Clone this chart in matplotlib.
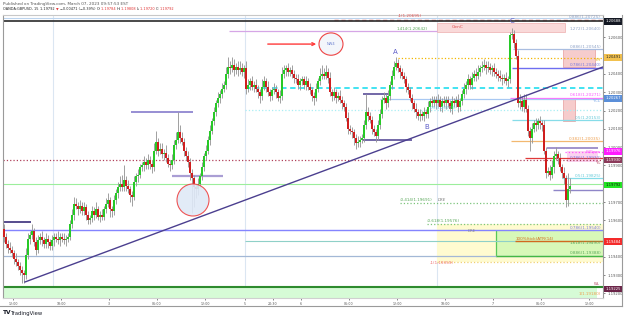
import matplotlib
matplotlib.use('Agg')
import matplotlib.pyplot as plt
import matplotlib.transforms as mtransforms
from matplotlib.patches import Rectangle, Ellipse
from matplotlib.lines import Line2D
import numpy as np

# ---------------- data (15-min GBPUSD candles) ----------------
BASE = 1.19000            # price base; series are in pips above it
first_open_pips = 55
close_pips = [
    51, 47, 45, 44, 42, 39, 37, 35, 33, 31, 30, 41, 50, 52, 54, 48, 44, 49, 51, 49,
    47, 50, 48, 46, 49, 51, 50, 49, 51, 50, 49, 50, 51, 58, 63, 69, 68, 66, 68, 65,
    67, 63, 60, 61, 65, 63, 66, 62, 63, 62, 66, 69, 71, 66, 65, 71, 75, 78, 80, 78,
    82, 79, 77, 74, 73, 81, 84, 85, 89, 90, 92, 90, 93, 91, 89, 98, 103, 98, 99, 96,
    97, 94, 91, 90, 93, 101, 104, 108, 105, 103, 98, 95, 92, 86, 83, 78, 77, 80, 84, 89,
    95, 98, 104, 109, 114, 119, 124, 127, 129, 132, 134, 140, 144, 143, 145, 142, 144, 142, 143, 141,
    143, 132, 134, 136, 133, 134, 132, 130, 128, 133, 136, 133, 130, 128, 131, 132, 130, 127, 128, 140,
    142, 143, 141, 142, 140, 138, 137, 134, 136, 137, 134, 136, 133, 131, 128, 127, 132, 136, 139, 140,
    139, 141, 138, 130, 128, 130, 127, 128, 126, 124, 122, 116, 110, 109, 108, 105, 102, 103, 104, 105,
    112, 119, 117, 115, 110, 108, 106, 112, 118, 126, 127, 124, 128, 134, 139, 144, 146, 143, 141, 139,
    137, 133, 131, 127, 124, 121, 119, 117, 118, 117, 119, 118, 122, 125, 124, 126, 124, 126, 122, 125,
    124, 126, 124, 121, 125, 124, 126, 122, 125, 129, 132, 134, 137, 134, 138, 140, 139, 141, 143, 144,
    145, 143, 144, 142, 143, 141, 140, 139, 138, 137, 138, 136, 137, 161, 162, 157, 150, 124, 125, 122,
    126, 121, 109, 105, 110, 113, 112, 114, 113, 112, 98, 86, 87, 85, 89, 95, 96, 94, 89, 86, 83, 71, 77, 79,
]
wick_up_pips = [
    3, 2, 2, 3, 2, 2, 3, 2, 2, 2, 2, 4, 3, 2, 4, 2, 3, 3, 2, 3,
    2, 3, 2, 2, 3, 2, 2, 4, 2, 2, 3, 2, 2, 2, 3, 4, 3, 2, 3, 2,
    3, 2, 2, 2, 3, 2, 4, 2, 2, 3, 2, 3, 4, 2, 2, 3, 2, 3, 4, 5,
    8, 2, 3, 2, 2, 3, 2, 3, 2, 2, 3, 2, 3, 2, 2, 4, 6, 2, 3, 3,
    2, 4, 2, 2, 3, 3, 4, 11, 4, 3, 2, 2, 3, 2, 2, 2, 2, 3, 2, 3,
    2, 3, 2, 3, 2, 3, 2, 3, 2, 3, 2, 4, 5, 3, 4, 3, 2, 3, 4, 3,
    2, 4, 3, 2, 3, 2, 3, 2, 2, 4, 3, 2, 3, 2, 2, 3, 2, 2, 3, 4,
    3, 2, 3, 2, 3, 2, 2, 3, 2, 2, 2, 3, 2, 2, 2, 2, 3, 2, 4, 5,
    3, 4, 2, 3, 2, 3, 2, 2, 3, 2, 2, 2, 3, 2, 2, 2, 2, 3, 2, 2,
    3, 10, 3, 2, 2, 2, 2, 3, 3, 2, 3, 2, 3, 2, 3, 3, 3, 2, 2, 2,
    2, 2, 2, 2, 2, 2, 3, 2, 3, 2, 3, 2, 3, 2, 3, 2, 2, 3, 2, 2,
    3, 2, 2, 2, 3, 2, 2, 3, 2, 2, 3, 2, 3, 2, 3, 2, 3, 4, 2, 3,
    3, 2, 3, 2, 2, 3, 2, 2, 3, 2, 2, 3, 2, 2, 3, 2, 2, 3, 4, 3,
    3, 3, 2, 2, 3, 2, 3, 2, 3, 2, 3, 2, 2, 3, 4, 3, 4, 2, 3, 2, 3, 2, 9, 4,
]
wick_dn_pips = [
    3, 2, 3, 2, 2, 3, 2, 2, 3, 5, 4, 2, 2, 3, 2, 2, 3, 2, 2, 3,
    2, 2, 3, 2, 2, 3, 2, 2, 3, 2, 2, 3, 2, 2, 2, 3, 2, 3, 2, 2,
    2, 3, 2, 2, 2, 3, 2, 2, 3, 2, 2, 2, 2, 4, 3, 2, 2, 3, 2, 2,
    2, 3, 2, 4, 5, 2, 2, 3, 2, 2, 3, 2, 2, 3, 3, 2, 2, 3, 2, 2,
    3, 2, 2, 3, 2, 2, 2, 2, 3, 2, 3, 2, 3, 4, 19, 11, 5, 3, 2, 2,
    2, 2, 2, 3, 2, 2, 2, 2, 3, 2, 2, 2, 2, 3, 2, 3, 2, 3, 2, 2,
    3, 3, 2, 3, 2, 3, 2, 3, 4, 2, 2, 3, 2, 3, 2, 2, 3, 2, 3, 2,
    2, 3, 2, 2, 2, 3, 2, 2, 3, 2, 2, 3, 2, 2, 3, 4, 2, 2, 2, 2,
    2, 2, 3, 2, 3, 2, 3, 2, 2, 3, 2, 2, 3, 2, 3, 4, 3, 2, 3, 2,
    2, 2, 3, 2, 3, 2, 3, 2, 2, 2, 2, 3, 2, 2, 2, 2, 2, 2, 3, 2,
    2, 3, 2, 2, 3, 2, 3, 2, 3, 2, 3, 2, 2, 3, 2, 2, 3, 2, 2, 3,
    2, 3, 2, 2, 3, 2, 2, 3, 2, 2, 2, 3, 2, 2, 2, 2, 3, 2, 2, 2,
    2, 3, 2, 2, 3, 2, 2, 3, 2, 3, 2, 2, 3, 2, 2, 3, 2, 2, 3, 2,
    3, 2, 3, 7, 3, 2, 3, 2, 3, 3, 2, 3, 2, 3, 2, 3, 2, 3, 2, 3, 3, 4, 3, 2,
]

time_tick_pos = [4.5, 28.5, 52.5, 76.5, 100.5, 120.5, 134.5, 148.5, 172.5, 196.5, 220.5, 244.5, 268.5, 292.5]
time_tick_labels = ['12:00', '18:00', '3', '06:00', '12:00', '5', '20:30', '6', '06:00', '12:00', '18:00', '7', '06:00', '12:00']
session_breaks = [24.5, 120.5, 216.5]

price_ticks = [1.20600, 1.20400, 1.20300, 1.20200, 1.20100, 1.20000, 1.19900,
               1.19700, 1.19600, 1.19400, 1.19300, 1.19200]
# (price, text, background, text colour)
price_badges = [
    (1.20688, '1.20688', '#131722', 'white'),
    (1.20491, '1.20491', '#f2c14e', '#222222'),
    (1.20267, '1.20267', '#5b8fd9', 'white'),
    (1.19976, '1.19976', '#ff1cff', 'white'),
    (1.19930, '1.19930', '#8b3a5a', 'white'),
    (1.19792, '1.19792', '#22e622', '#111111'),
    (1.19484, '1.19484', '#f42a2a', 'white'),
    (1.19225, '1.19225', '#6b2448', 'white'),
]

# header pieces: (text, colour)
header_title = 'Published on TradingView.com, March 07, 2023 09:57:53 EST'
header_pieces = [
    ('OANDA:GBPUSD, 15 ', '#222222'), ('1.19792 ', '#222222'), ('\u25bc ', '#e03030'),
    ('\u22120.00471 (\u22120.39%) ', '#222222'),
    ('O:', '#222222'), ('1.19784 ', '#e03030'), ('H:', '#222222'), ('1.19808 ', '#e03030'),
    ('L:', '#222222'), ('1.19720 ', '#e03030'), ('C:', '#222222'), ('1.19792', '#e03030'),
]

# ---------------- figure ----------------
W, H = 625, 319
fig = plt.figure(figsize=(W / 100, H / 100), dpi=100)
fig.patch.set_facecolor('white')
ax = fig.add_axes([3 / W, 1 - 298 / H, 600 / W, 283 / H])
ax.set_xlim(-0.5, 299.5)
ax.set_ylim(1.191754, 1.207219)
ax.set_facecolor('white')

closes = BASE + np.array(close_pips) / 1e4
opens = np.r_[BASE + first_open_pips / 1e4, closes[:-1]]
highs = np.maximum(opens, closes) + np.array(wick_up_pips) / 1e4
lows = np.minimum(opens, closes) - np.array(wick_dn_pips) / 1e4
xs = np.arange(len(closes))

XR = 299.5


def hline(p, x0, x1, color, lw=0.8, ls='-', z=2):
    ax.plot([x0, x1], [p, p], color=color, lw=lw, ls=ls, zorder=z, solid_capstyle='butt')


def rect(x0, x1, p0, p1, fc, ec='none', lw=0.6, z=1, alpha=1.0):
    ax.add_patch(Rectangle((x0, min(p0, p1)), x1 - x0, abs(p1 - p0), facecolor=fc,
                           edgecolor=ec, lw=lw, zorder=z, alpha=alpha))


def txt(x, p, s, color, size=3.0, ha='left', va='center', z=6, **kw):
    ax.text(x, p, s, color=color, fontsize=size, ha=ha, va=va, zorder=z, **kw)


# session separators
for sb in session_breaks:
    ax.axvline(sb, color='#dbe6f2', lw=0.8, zorder=0.5)

# ---- zones / rectangles ----
rect(216.5, 280.5, 1.20629, 1.20678, '#f9d9d9', ec='#f0b8b8', z=1)           # GenC
rect(279.5, 295.5, 1.20438, 1.20536, '#f6cccc', ec='#eaa9a9', z=1)
rect(279.5, 285.5, 1.20143, 1.20268, '#f6cccc', ec='#eaa9a9', z=1)
rect(281.5, 297.0, 1.19919, 1.19979, '#fbd3f0', ec='none', z=1)
rect(216.5, XR, 1.19372, 1.19580, '#fffbd0', ec='none', z=1)                  # DRE yellow
rect(246.0, XR, 1.19405, 1.19542, '#d8f8b8', ec='none', z=1.2)                # green zone
ax.plot([246, 246], [1.19405, 1.19542], color='#58c858', lw=0.9, zorder=2)
rect(-0.5, 296.5, 1.191754, 1.19235, '#d6fbd6', ec='none', z=1)               # bottom green band

# ---- horizontal levels ----
hline(1.20705, -0.5, XR, '#bcd4ee', lw=0.8)
hline(1.20695, 165, XR, '#e05050', lw=1.0, ls=(0, (3, 2)))
hline(1.20688, -0.5, XR, '#3a3a3a', lw=1.3, z=2.5)
hline(1.20722, 216.5, XR, '#e6c850', lw=0.8, ls=':')
hline(1.20634, 112.5, 216.5, '#d6a6e6', lw=0.9)
hline(1.20536, 254.5, XR, '#a9bde0', lw=0.9)
hline(1.20489, 197.0, XR, '#f2b600', lw=0.9, ls=':')
hline(1.20435, 254.0, XR, '#6e6ef0', lw=1.0)
hline(1.20323, 120.5, XR, '#33e0f0', lw=1.3, ls=(0, (3, 2)))
hline(1.20271, 253.0, XR, '#ff70ff', lw=0.9)
hline(1.20262, 188.0, XR, '#a8c8f2', lw=0.9)
hline(1.20203, 120.5, XR, '#a8eef4', lw=0.9, ls=':')
hline(1.20148, 254.0, XR, '#86dce8', lw=0.9)
hline(1.20033, 253.5, XR, '#f2b870', lw=0.9)
hline(1.19995, 271.5, 297.0, '#a194cc', lw=1.4)
hline(1.19973, 280.5, XR, '#ff55ff', lw=0.9, ls=':')
hline(1.19940, 260.5, XR, '#e03a3a', lw=0.9)
hline(1.19930, -0.5, XR, '#b0405a', lw=0.9, ls=':')
hline(1.19798, -0.5, XR, '#9cee9c', lw=0.8)
hline(1.19831, 279.0, XR, '#86dce8', lw=0.9)
hline(1.19766, 274.5, XR, '#8f86c8', lw=1.0)
hline(1.19695, 198.0, XR, '#7cc47c', lw=0.9, ls=':')
hline(1.19580, 211.5, XR, '#7cc47c', lw=0.9, ls=':')
hline(1.19547, -0.5, XR, '#8484ff', lw=1.0)
hline(1.19487, 120.5, XR, '#8fd0c8', lw=0.8)
hline(1.19487, 255.5, XR, '#d2691e', lw=1.0)
hline(1.19405, -0.5, XR, '#a3b8d6', lw=0.9)
hline(1.19405, 246.0, XR, '#44b844', lw=1.0)
hline(1.19372, 216.5, XR, '#f0d070', lw=0.9, ls=':')
hline(1.19235, -0.5, XR, '#2e8b2e', lw=1.5, z=2.5)
hline(1.19591, -0.5, 13.5, '#3a2d7a', lw=1.2)
hline(1.19842, 84.0, 109.5, '#aa9ed4', lw=1.6)
hline(1.20192, 63.5, 94.5, '#7a70c8', lw=1.1)
hline(1.20290, 179.5, 193.0, '#4b3f8f', lw=1.1)
hline(1.20039, 179.5, 204.0, '#4b3f8f', lw=1.1)

# ---- candles ----
up = closes >= opens
ax.vlines(xs, lows, highs, color='#999999', lw=0.65, zorder=3)
body_h = np.maximum(np.abs(closes - opens), 0.00003)
body_b = np.minimum(opens, closes)
ax.bar(xs[up], body_h[up], bottom=body_b[up], width=0.9, color='#27c927', lw=0, zorder=3.5)
ax.bar(xs[~up], body_h[~up], bottom=body_b[~up], width=0.9, color='#cf1f1f', lw=0, zorder=3.5)

# ---- trend line ----
ax.plot([10.5, XR], [1.19263, 1.20438], color='#4b3f8f', lw=1.0, zorder=4)

# ---- circles / arrow ----
ax.add_patch(Ellipse((94.5, 1.19711), 16, 0.00175, facecolor='#dfe9f7', edgecolor='#ee4444',
                     lw=0.8, zorder=3.8, alpha=0.9))
ax.add_patch(Ellipse((163.5, 1.20563), 12, 0.00122, facecolor='#f3f6fb', edgecolor='#ee4444',
                     lw=0.8, zorder=4))
txt(163.5, 1.20563, 'NW4', '#6a7fd0', size=2.6, ha='center')
ax.annotate('', xy=(157.5, 1.20563), xytext=(130.5, 1.20563),
            arrowprops=dict(arrowstyle='->', color='#ff3a3a', lw=1.0, mutation_scale=5), zorder=4)

# ---- point labels ----
txt(195.5, 1.20518, 'A', '#5c5cc8', size=5, ha='center')
txt(211.5, 1.20108, 'B', '#5c5cc8', size=5, ha='center')
txt(254.0, 1.20690, 'C', '#5c5cc8', size=5, ha='center')

# ---- level texts ----
R = 298.5
txt(R, 1.20712, '0.886(1.20725)', '#8fa3c8', ha='right')
txt(197.0, 1.20718, '-1(1.20695)', '#e05050')
txt(196.5, 1.20646, '1.414(1.20642)', '#5aa85a')
txt(224.0, 1.20654, 'GenC', '#e05050', size=3.2)
txt(R, 1.20646, '1.272(1.20640)', '#8fa3c8', ha='right')
txt(R, 1.20548, '0.886(1.20545)', '#8fa3c8', ha='right')
txt(R - 0.5, 1.20474, 'YH', '#e0b000', size=2.8, ha='right')
txt(R, 1.20446, '0.786(1.20440)', '#7a7ae0', ha='right')
txt(R, 1.20282, '0.618(1.20271)', '#ff55ff', ha='right')
txt(R - 0.5, 1.20250, 'YCL', '#7aa8e8', size=2.8, ha='right')
txt(213.0, 1.20213, '0.5(1.20203)', '#70d8e8')
txt(R, 1.20160, '0.5(1.20153)', '#60c8d8', ha='right')
txt(R, 1.20046, '0.382(1.20035)', '#eea050', ha='right')
txt(R, 1.19972, 'W.Open', '#ff55ff', size=2.8, ha='right')
txt(R, 1.19943, '0.786(1.19930)', '#7a7ae0', ha='right')
txt(R - 0.5, 1.19912, 'YL', '#b0405a', size=2.8, ha='right')
txt(R, 1.19843, '0.5(1.19825)', '#60c8d8', ha='right')
txt(198.0, 1.19712, '-0.414(1.19691)', '#5aa85a')
txt(217.0, 1.19710, 'DRE', '#777777', size=2.8, style='italic')
txt(211.5, 1.19594, '-0.618(1.19576)', '#5aa85a')
txt(R, 1.19560, '0.786(1.19540)', '#7a7ae0', ha='right')
txt(232.0, 1.19540, 'DRE', '#888888', size=2.8)
txt(256.0, 1.19500, '100%(tick)ATR(14)', '#d2691e', size=3.0)
txt(R, 1.19475, '1.618(1.19490)', '#5aa85a', ha='right')
txt(R, 1.19422, '0.886(1.19388)', '#5aa85a', ha='right')
txt(213.0, 1.19368, '-1(1.19359)', '#f07070')
txt(R - 0.5, 1.19252, 'WL', '#b0405a', size=2.8, ha='right')
txt(R, 1.19196, '1(1.19180)', '#eea050', ha='right')

# ---- axes styling ----
for s in ['left', 'right', 'top', 'bottom']:
    ax.spines[s].set_color('#9a9a9a')
    ax.spines[s].set_linewidth(0.8)
ax.spines['top'].set_color('#c8c8c8')
ax.spines['bottom'].set_color('#d0d0d0')
ax.yaxis.tick_right()
ax.set_yticks(price_ticks)
ax.set_yticklabels([f'{p:.5f}' for p in price_ticks])
ax.tick_params(axis='y', length=1.5, width=0.5, pad=2, labelsize=2.7, colors='#555555')
ax.set_xticks(time_tick_pos)
ax.set_xticklabels(time_tick_labels)
ax.tick_params(axis='x', length=1.5, width=0.5, pad=1.5, labelsize=2.3, colors='#555555')

trans = mtransforms.blended_transform_factory(ax.transAxes, ax.transData)
for p, s, bg, fg in price_badges:
    ax.text(1.004, p, s, transform=trans, fontsize=2.7, color=fg, ha='left', va='center',
            zorder=10, clip_on=False,
            bbox=dict(boxstyle='square,pad=0.35', fc=bg, ec='none'))

# outer frame
fig.add_artist(Line2D([0, 622 / W], [1 - 306 / H] * 2, color='#9a9a9a', lw=0.8))
fig.add_artist(Line2D([622 / W, 622 / W], [1 - 306 / H, 1 - 15 / H], color='#9a9a9a', lw=0.8))

# header (pieces laid out one after another)
fig.text(3 / W, 1 - 3.5 / H, header_title, fontsize=3.0, color='#555555', va='center', ha='left')
renderer = fig.canvas.get_renderer()
xpix = 3.0
for s, c in header_pieces:
    t = fig.text(xpix / W, 1 - 9.5 / H, s, fontsize=2.5, color=c, va='center', ha='left')
    bb = t.get_window_extent(renderer=renderer)
    xpix += bb.width + 0.2

# logo
fig.text(3 / W, 1 - 313 / H, 'TV', fontsize=4.2, color='#131722', va='center', weight='bold')
fig.text(11 / W, 1 - 313 / H, 'TradingView', fontsize=3.8, color='#131722', va='center')

fig.savefig('out.png', dpi=100, facecolor='white')
